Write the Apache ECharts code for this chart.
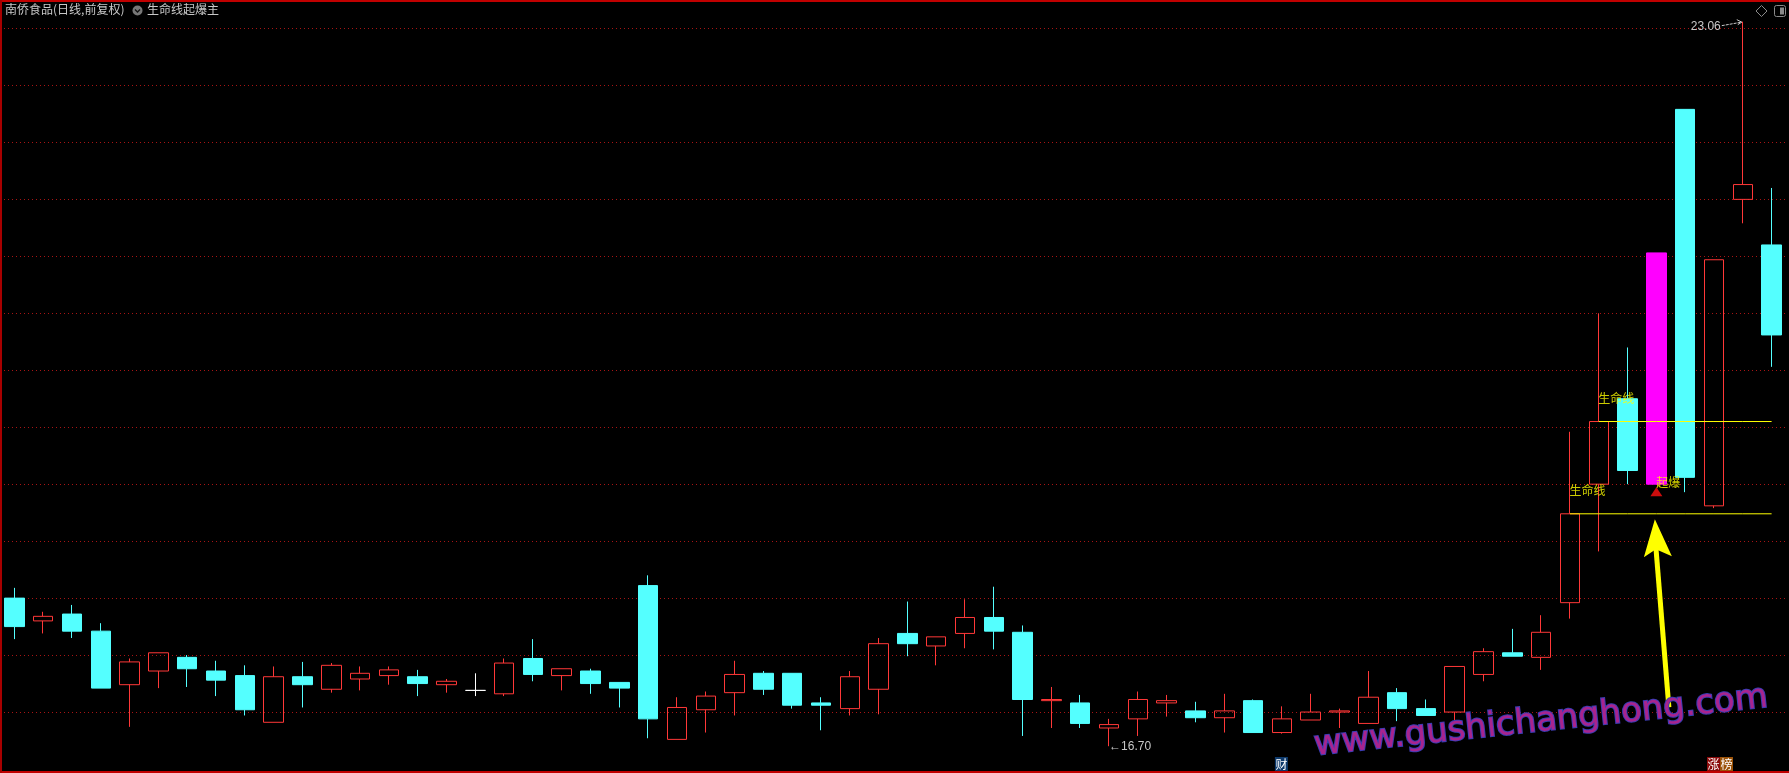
<!DOCTYPE html>
<html><head><meta charset="utf-8">
<script src="https://cdn.jsdelivr.net/npm/echarts@6/dist/echarts.min.js"></script>
<style>html,body{margin:0;padding:0;background:#000;overflow:hidden}#c{width:1789px;height:773px}</style>
</head><body><div id="c"></div>
<script>
// ---- data ----
const categories = Array.from({length: 62}, (_, i) => String(i + 1));
const opens  = [18.00,17.80,17.86,17.71,17.24,17.36,17.48,17.36,17.32,16.91,17.31,17.20,17.29,17.32,17.31,17.24,17.19,17.16,17.47,17.32,17.36,17.26,18.11,16.76,17.02,17.17,17.34,17.34,17.08,17.03,17.20,17.69,17.58,17.69,17.83,17.70,17.10,17.08,16.86,16.94,17.08,17.01,16.95,17.10,16.82,16.93,17.00,16.90,17.17,17.03,17.00,17.33,17.52,17.48,17.96,19.00,19.75,19.00,22.29,18.81,21.50,21.10];
const closes = [17.75,17.84,17.71,17.21,17.44,17.52,17.38,17.28,17.02,17.31,17.24,17.41,17.34,17.37,17.25,17.27,17.19,17.43,17.33,17.38,17.25,17.21,16.94,17.04,17.14,17.33,17.20,17.06,17.06,17.31,17.60,17.60,17.66,17.83,17.71,17.11,17.11,16.90,16.89,17.11,17.10,16.95,17.01,16.82,16.94,17.00,17.01,17.13,17.03,16.97,17.40,17.53,17.49,17.70,18.74,19.55,19.12,21.03,19.06,20.97,21.63,20.31];
const lows   = [17.64,17.69,17.65,17.21,16.87,17.21,17.22,17.14,16.97,16.91,17.04,17.17,17.19,17.24,17.14,17.17,17.14,17.14,17.27,17.19,17.16,17.04,16.77,16.76,16.82,16.97,17.15,17.03,16.84,16.97,16.98,17.49,17.41,17.56,17.55,16.79,16.86,16.86,16.70,16.79,16.96,16.91,16.82,16.82,16.81,16.93,16.86,16.90,16.92,16.97,16.90,17.27,17.49,17.37,17.82,18.41,19.00,19.00,18.93,18.79,21.29,20.03];
const highs  = [18.09,17.88,17.94,17.78,17.47,17.52,17.50,17.45,17.41,17.40,17.44,17.43,17.40,17.40,17.37,17.29,17.34,17.47,17.64,17.38,17.38,17.26,18.20,17.13,17.18,17.45,17.36,17.34,17.13,17.36,17.65,17.97,17.66,17.99,18.10,17.76,17.22,17.15,16.94,17.18,17.15,17.09,17.16,17.11,17.05,17.16,17.03,17.36,17.21,17.11,17.40,17.56,17.73,17.85,19.46,20.50,20.20,21.03,22.29,20.97,23.06,21.60];
const signalIndex = 57;              // 起爆
const lifeLineStarts = [54, 55];     // 生命线 start candles (level = close of that candle)
const priceMin = 16.5, priceMax = 23.25, priceStep = 0.5;
const eventBadges = [{idx: 44, parts: [['财', '#0e3a6c']]}, {idx: 59, parts: [['涨', '#8a0a0a'], ['榜', '#9a5208']]}];

const RED = '#ff3838', CYAN = '#54ffff', YEL = '#ffff00';
const chart = echarts.init(document.getElementById('c'), null, {renderer: 'canvas'});

const candleData = opens.map((o, i) => {
  const v = [o, closes[i], lows[i], highs[i]];
  return i === signalIndex ? {value: v, itemStyle: {color: '#ff00ff', borderColor: '#ff00ff'}} : v;
});

const lifeLines = lifeLineStarts.map(s => ({
  type: 'line', data: categories.map((c, i) => i >= s ? closes[s] : null),
  showSymbol: false, silent: true, lineStyle: {color: YEL, width: 1}, z: 3
}));
const lifeLabels = {
  type: 'scatter', silent: true, z: 4,
  data: lifeLineStarts.map(s => [s, closes[s]]),
  symbolSize: 1, itemStyle: {color: 'rgba(0,0,0,0)'},
  label: {show: true, formatter: '生命线', position: [0, -29], color: YEL, fontSize: 12, fontFamily: 'Noto Sans CJK SC'}
};
const signalMark = {
  type: 'scatter', silent: true, z: 5,
  data: [[signalIndex, lows[signalIndex]]],
  symbol: 'triangle', symbolSize: [12, 9], symbolOffset: [0, 7.5], itemStyle: {color: '#ff1010'},
  label: {show: true, formatter: '起爆', position: [6, -11], color: YEL, fontSize: 12, fontFamily: 'Noto Sans CJK SC'}
};

chart.setOption({
  backgroundColor: '#000',
  animation: false,
  grid: {left: -1, right: 3, top: 0, bottom: 4},
  xAxis: {type: 'category', data: categories, boundaryGap: true,
    axisLine: {show: false}, axisTick: {show: false}, axisLabel: {show: false}, splitLine: {show: false}},
  yAxis: {type: 'value', min: priceMin, max: priceMax, interval: priceStep,
    axisLine: {show: false}, axisTick: {show: false}, axisLabel: {show: false},
    splitLine: {show: true, showMinLine: false, showMaxLine: false, lineStyle: {color: '#a81414', width: 1, type: [1, 3]}}},
  series: [
    {type: 'candlestick', data: candleData, barWidth: 20, z: 2,
      itemStyle: {color: 'rgba(0,0,0,0)', color0: CYAN, borderColor: RED, borderColor0: CYAN, borderColorDoji: '#ffffff', borderWidth: 1}},
    ...lifeLines, lifeLabels, signalMark
  ]
});

// ---- annotations positioned through the chart's scales ----
const px = (i, v) => chart.convertToPixel({gridIndex: 0}, [i, v]);
const hiVal = Math.max(...highs), hiIdx = highs.indexOf(hiVal);
const loVal = Math.min(...lows), loIdx = lows.indexOf(loVal);
const hiP = px(hiIdx, hiVal), loP = px(loIdx, loVal);
const sigP = px(signalIndex, closes[lifeLineStarts[0]]);
const G = [];
const GRAY = '#c8c8c8';
// frame
G.push({type: 'rect', shape: {x: 0, y: 0, width: 1789, height: 2}, style: {fill: '#c00000'}, z: 100});
G.push({type: 'rect', shape: {x: 0, y: 771, width: 1789, height: 2}, style: {fill: '#c00000'}, z: 100});
G.push({type: 'rect', shape: {x: 0, y: 0, width: 2, height: 773}, style: {fill: '#a80000'}, z: 100});
// title
G.push({type: 'text', x: 5, y: 3.5, style: {text: '南侨食品(日线,前复权)', fill: GRAY, font: '12px "Noto Sans CJK SC"'}, z: 100});
G.push({type: 'circle', shape: {cx: 137.5, cy: 10.5, r: 5}, style: {fill: '#777'}, z: 100});
G.push({type: 'polyline', shape: {points: [[135, 9.5], [137.5, 12], [140, 9.5]]}, style: {stroke: '#111', lineWidth: 1.3, fill: null}, z: 101});
G.push({type: 'text', x: 147, y: 3.5, style: {text: '生命线起爆主', fill: GRAY, font: '12px "Noto Sans CJK SC"'}, z: 100});
// top-right icons
G.push({type: 'polygon', shape: {points: [[1761.5, 5.5], [1767, 11], [1761.5, 16.5], [1756, 11]]}, style: {stroke: '#8a8a8a', fill: null, lineWidth: 1}, z: 100});
G.push({type: 'rect', shape: {x: 1774.5, y: 5.5, width: 11, height: 11, r: 2}, style: {stroke: '#8a8a8a', fill: null, lineWidth: 1}, z: 100});
G.push({type: 'rect', shape: {x: 1780, y: 7.5, width: 4, height: 7}, style: {fill: '#8a8a8a'}, z: 100});
// max / min labels
G.push({type: 'text', x: hiP[0] - 22, y: hiP[1] + 5, style: {text: hiVal.toFixed(2), fill: GRAY, font: '12px "Liberation Sans"', align: 'right', verticalAlign: 'middle'}, z: 100});
G.push({type: 'polyline', shape: {points: [[hiP[0] - 21, hiP[1] + 4], [hiP[0] - 1, hiP[1] + 0.5]]}, style: {stroke: GRAY, lineWidth: 1, lineDash: [3, 1]}, z: 100});
G.push({type: 'polyline', shape: {points: [[hiP[0] - 6, hiP[1] - 2], [hiP[0] - 1, hiP[1] + 0.5], [hiP[0] - 5, hiP[1] + 3]]}, style: {stroke: GRAY, lineWidth: 1, fill: null}, z: 100});
G.push({type: 'text', x: loP[0], y: loP[1], style: {text: '←' + loVal.toFixed(2), fill: GRAY, font: '12px "Liberation Sans"', align: 'left', verticalAlign: 'middle'}, z: 100});
// event badges at the bottom
eventBadges.forEach(b => {
  let x = px(b.idx, priceMin)[0] - 7;
  b.parts.forEach(([t, bg]) => {
    G.push({type: 'rect', shape: {x: x, y: 757, width: 13, height: 14}, style: {fill: bg}, z: 100});
    G.push({type: 'text', x: x + 6.5, y: 764, style: {text: t, fill: '#fff', font: '12px "Noto Sans CJK SC"', align: 'center', verticalAlign: 'middle'}, z: 101});
    x += 13;
  });
});
// yellow arrow pointing at the signal
const tipX = sigP[0] - 1.5, tipY = sigP[1] + 5.5;
G.push({type: 'line', shape: {x1: tipX + 1, y1: tipY + 28, x2: tipX + 14, y2: tipY + 188}, style: {stroke: YEL, lineWidth: 5}, z: 90});
G.push({type: 'polygon', shape: {points: [[tipX, tipY], [tipX + 17, tipY + 37], [tipX + 1, tipY + 30], [tipX - 11, tipY + 38]]}, style: {fill: YEL}, z: 91});
// watermark
G.push({type: 'text', x: 1541, y: 722, rotation: 0.1065,
  style: {text: 'www.gushichanghong.com', fill: '#a8248e', stroke: '#3c3cb4', lineWidth: 2, strokeFirst: true,
    font: '34px "DejaVu Sans"', align: 'center', verticalAlign: 'middle'}, z: 95});
chart.setOption({graphic: G});
</script></body></html>
